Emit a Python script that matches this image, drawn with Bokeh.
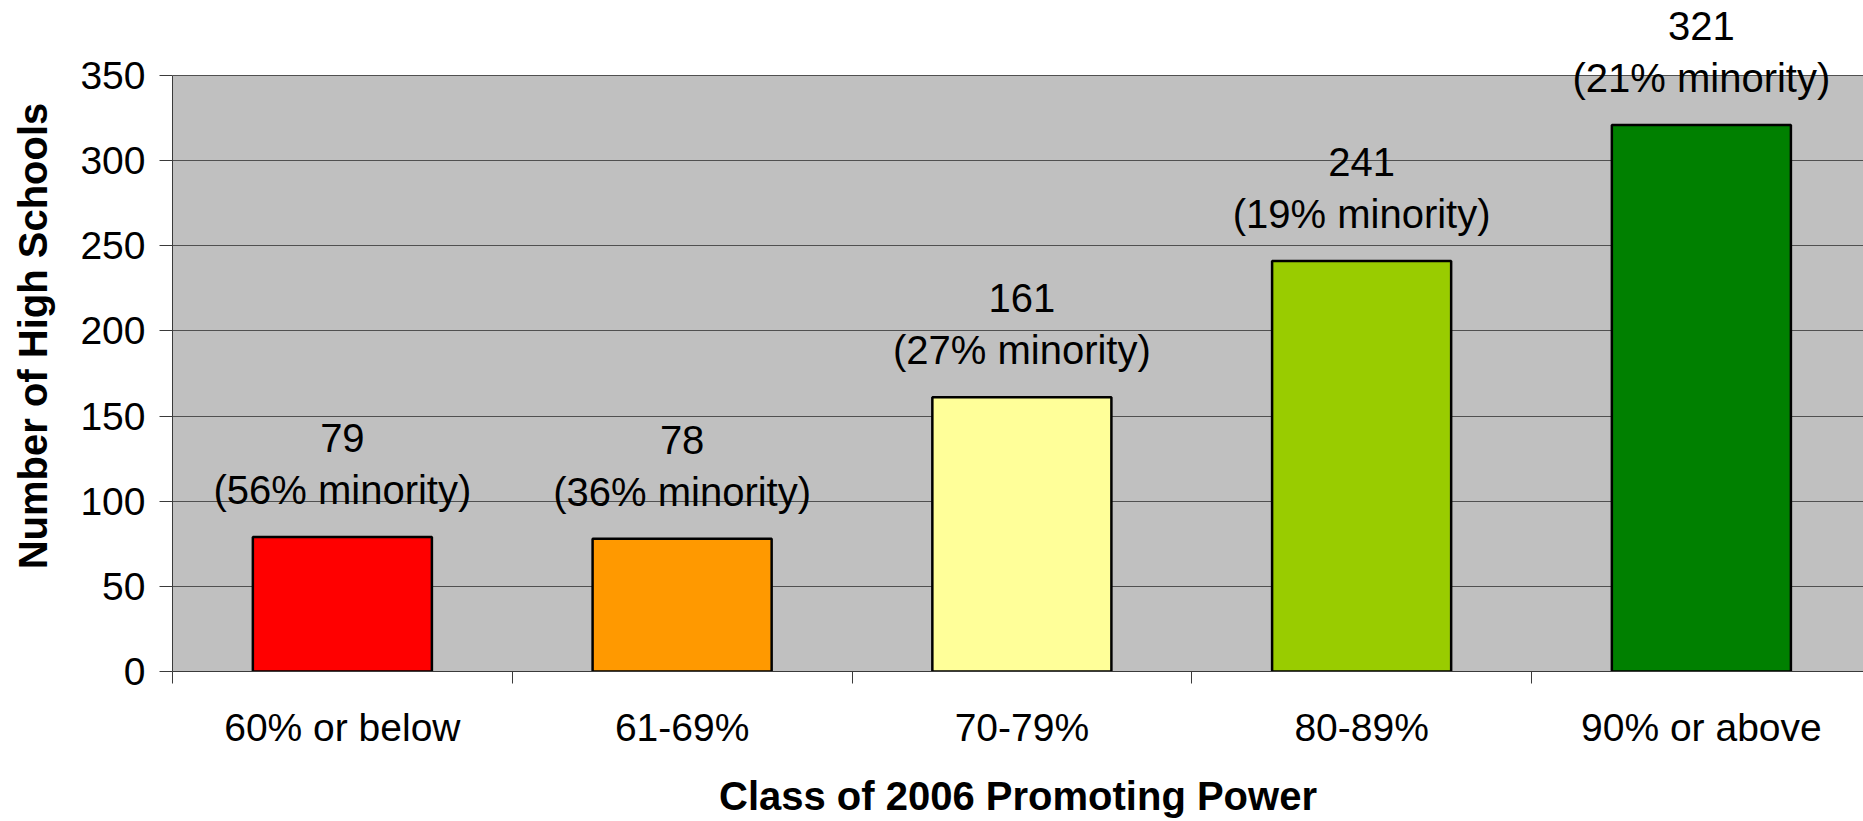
from bokeh.plotting import figure
from bokeh.models import Range1d, FixedTicker, ColumnDataSource, LabelSet, BoxAnnotation
from bokeh.core.properties import value
from bokeh.embed import file_html
from bokeh.resources import INLINE

categories = ["60% or below", "61-69%", "70-79%", "80-89%", "90% or above"]
counts = [79, 78, 161, 241, 321]
minority = ["(56% minority)", "(36% minority)", "(27% minority)", "(19% minority)", "(21% minority)"]
colors = ["#FF0000", "#FF9900", "#FFFF99", "#99CC00", "#008000"]
y_ticks = [0, 50, 100, 150, 200, 250, 300, 350]
y_max = 350

FONT = "Liberation Sans"

xs = [i + 0.5 for i in range(len(categories))]
src = ColumnDataSource(dict(x=xs, top=counts, color=colors,
                            count_txt=[str(c) for c in counts], minority=minority))

W, H = 1863, 821
LEFT, BOTTOM, TOP350 = 172, 150, 75
frame_h = H - BOTTOM
y_end = y_max * frame_h / (frame_h - TOP350)
x_end = (W - LEFT) / 339.75

p = figure(width=W, height=H, x_range=Range1d(0, x_end), y_range=Range1d(0, y_end),
           output_backend="svg", toolbar_location=None,
           min_border_left=LEFT, min_border_top=0, min_border_bottom=BOTTOM, min_border_right=0)

p.background_fill_color = "white"
p.border_fill_color = "white"
p.outline_line_color = None

bg = BoxAnnotation(bottom=0, top=y_max, fill_color="#C0C0C0", fill_alpha=1.0,
                   line_color=None, level="image")
p.add_layout(bg)

p.vbar(x="x", top="top", bottom=0, width=0.527, fill_color="color",
       line_color="black", line_width=2.5, source=src)

AX = "#3a3a3a"
# y axis
p.yaxis.bounds = (0, y_max)
p.yaxis.ticker = FixedTicker(ticks=y_ticks)
p.yaxis.axis_line_color = AX
p.yaxis.major_tick_line_color = AX
p.yaxis.major_tick_out = 13
p.yaxis.major_tick_in = 0
p.yaxis.minor_tick_line_color = None
p.yaxis.major_label_text_font = FONT
p.yaxis.major_label_text_font_size = "39px"
p.yaxis.major_label_text_color = "black"
p.yaxis.major_label_standoff = 14
p.yaxis.axis_label = "Number of High Schools"
p.yaxis.axis_label_text_font = FONT
p.yaxis.axis_label_text_font_style = "bold"
p.yaxis.axis_label_text_font_size = "40px"
p.yaxis.axis_label_text_color = "black"
p.yaxis.axis_label_standoff = 22

# x axis
p.xaxis.ticker = FixedTicker(ticks=xs, minor_ticks=[0, 1, 2, 3, 4, 5])
p.xaxis.major_label_overrides = {x: c for x, c in zip(xs, categories)}
p.xaxis.axis_line_color = AX
p.xaxis.major_tick_line_color = None
p.xaxis.major_tick_out = 0
p.xaxis.major_tick_in = 0
p.xaxis.minor_tick_line_color = AX
p.xaxis.minor_tick_out = 12
p.xaxis.minor_tick_in = 0
p.xaxis.major_label_text_font = FONT
p.xaxis.major_label_text_font_size = "39px"
p.xaxis.major_label_text_color = "black"
p.xaxis.major_label_standoff = 22
p.xaxis.axis_label = "Class of 2006 Promoting Power"
p.xaxis.axis_label_text_font = FONT
p.xaxis.axis_label_text_font_style = "bold"
p.xaxis.axis_label_text_font_size = "40px"
p.xaxis.axis_label_text_color = "black"
p.xaxis.axis_label_standoff = 22

p.xgrid.grid_line_color = None
p.ygrid.ticker = FixedTicker(ticks=y_ticks)
p.ygrid.grid_line_color = "#505050"
p.ygrid.grid_line_width = 1

lab1 = LabelSet(x="x", y="top", text="count_txt", source=src, y_offset=99,
                text_align="center", text_baseline="middle",
                text_font=value(FONT), text_font_size="40px", text_color="black")
lab2 = LabelSet(x="x", y="top", text="minority", source=src, y_offset=47,
                text_align="center", text_baseline="middle",
                text_font=value(FONT), text_font_size="40px", text_color="black")
p.add_layout(lab1)
p.add_layout(lab2)

open("out.html", "w").write(file_html(p, INLINE))
